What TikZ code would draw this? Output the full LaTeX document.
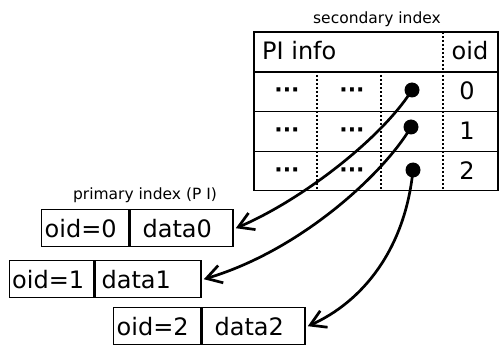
\documentclass[tikz,border=0pt]{standalone}
\usepackage{fontspec}
\setmainfont{DejaVu Sans}
\usetikzlibrary{arrows.meta}

\tikzset{
  big/.style={font=\fontsize{24}{26}\selectfont, inner sep=0pt},
  small/.style={font=\fontsize{15.5}{17}\selectfont, inner sep=0pt},
  elli/.style={font=\bfseries\fontsize{22}{24}\selectfont, inner sep=0pt},
  headbox/.style={draw, line width=2.2pt, anchor=north west, inner sep=0pt,
    minimum width=244pt, minimum height=40pt},
  rowbox/.style={draw, line width=1.5pt, anchor=north west, inner sep=0pt,
    minimum width=244pt},
  divider/.style={line width=1.3pt, dash pattern=on 2pt off 2pt},
  ptr/.style={circle, fill=black, inner sep=0pt, minimum size=15pt},
  pcell/.style={draw, line width=1.4pt, anchor=north west, inner sep=0pt,
    minimum height=37pt},
  link/.style={line width=2.7pt, -{Straight Barb[length=15pt,width=18pt,line width=2.7pt]}}
}

\begin{document}
\begin{tikzpicture}[x=1pt, y=-1pt]
  \useasboundingbox (0,0) rectangle (499,345);

  % secondary index table
  \node[small] (stitle) at (377,19) {secondary index};
  \node[headbox] (hd) at (253,31) {};
  \node[rowbox, minimum height=40pt] (r0) at (253,71) {};
  \node[rowbox, minimum height=40pt] (r1) at (253,111) {};
  \node[rowbox, minimum height=39pt] (r2) at (253,151) {};
  \draw[divider] (443,32) -- (443,70);
  \foreach \x in {317,381,443} \draw[divider] (\x,71) -- (\x,190);

  \node[big, anchor=west] (pi) at (262,51) {PI info};
  \node[big] (oid) at (470,51) {oid};

  \node[elli] (a0) at (287,93) {···};
  \node[elli] (b0) at (352,93) {···};
  \node[elli] (a1) at (287,133) {···};
  \node[elli] (b1) at (352,133) {···};
  \node[elli] (a2) at (287,173) {···};
  \node[elli] (b2) at (352,173) {···};

  \node[ptr] (p0) at (412,90) {};
  \node[ptr] (p1) at (411,127) {};
  \node[ptr] (p2) at (413,170) {};

  \node[big] (n0) at (467,91) {0};
  \node[big] (n1) at (467,131) {1};
  \node[big] (n2) at (467,171) {2};

  % primary index records
  \node[small] (ptitle) at (145,195) {primary index (P I)};

  \node[pcell, minimum width=87pt] (k0) at (41,209) {};
  \node[pcell, minimum width=103pt] (v0) at (k0.north east) {};
  \node[big, anchor=west] (tk0) at ([xshift=3.5pt]k0.west) {oid=0};
  \node[big, anchor=west] (tv0) at ([xshift=13pt]v0.west) {data0};

  \node[pcell, minimum width=84pt] (k1) at (9,260) {};
  \node[pcell, minimum width=106pt] (v1) at (k1.north east) {};
  \node[big, anchor=west] (tk1) at ([xshift=3pt]k1.west) {oid=1};
  \node[big, anchor=west] (tv1) at ([xshift=7pt]v1.west) {data1};

  \node[pcell, minimum width=87pt] (k2) at (113,307) {};
  \node[pcell, minimum width=103pt] (v2) at (k2.north east) {};
  \node[big, anchor=west] (tk2) at ([xshift=3.5pt]k2.west) {oid=2};
  \node[big, anchor=west] (tv2) at ([xshift=13pt]v2.west) {data2};

  % pointers from the secondary index into the records
  \draw[link] (p0.center) .. controls (382,138) and (302,200) .. ([xshift=2pt]v0.east);
  \draw[link] (p1.center) .. controls (385,172) and (302,250) .. ([xshift=2pt]v1.east);
  \draw[link] (p2.center) .. controls (405,250) and (362,302) .. ([xshift=2pt]v2.east);
\end{tikzpicture}
\end{document}
